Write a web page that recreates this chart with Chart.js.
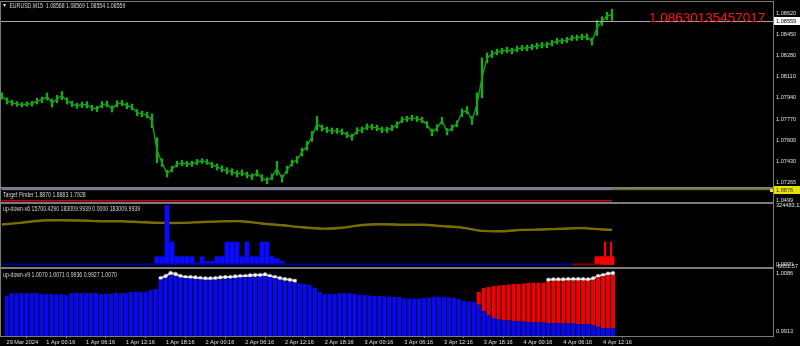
<!DOCTYPE html>
<html>
<head>
<meta charset="utf-8">
<script src="https://cdn.jsdelivr.net/npm/chart.js@4.4.1/dist/chart.umd.min.js"></script>
<style>
  body { margin: 0; background: #000; width: 800px; height: 346px; overflow: hidden; position: relative;
         font-family: "Liberation Sans", Arial, sans-serif; }
  canvas { position: absolute; left: 0; }
  .sep { position: absolute; background: #7c7c7c; z-index: 3; }
  .txt { position: absolute; color: #d8d8d8; font-size: 6.5px; line-height: 7px; white-space: nowrap; z-index: 4;
         transform: scaleX(0.8); transform-origin: 0 0; }
  .big { position: absolute; color: #ff1414; font-size: 13.5px; line-height: 13.5px; white-space: nowrap; z-index: 4; }
  .tri { display: inline-block; width: 0; height: 0; border-left: 2.5px solid transparent;
         border-right: 2.5px solid transparent; border-top: 3px solid #d8d8d8; margin-right: 4px; vertical-align: 1px; }
</style>
</head>
<body>
<canvas id="cMain" width="800" height="188" style="top:0"></canvas>
<canvas id="cTF" width="800" height="22" style="top:183px"></canvas>
<canvas id="cV6" width="800" height="70" style="top:199px"></canvas>
<canvas id="cV9" width="800" height="82" style="top:264px"></canvas>

<div class="sep" style="left:0;top:1px;width:773px;height:1px"></div>
<div class="sep" style="left:0;top:187px;width:773px;height:2px"></div>
<div class="sep" style="left:0;top:202px;width:773px;height:2px"></div>
<div class="sep" style="left:0;top:267px;width:773px;height:2px"></div>
<div class="sep" style="left:0;top:336px;width:773px;height:1px"></div>
<div class="sep" style="left:0;top:1px;width:1px;height:336px"></div>
<div class="sep" style="left:773px;top:1px;width:1px;height:336px"></div>

<div class="txt" style="left:3px;top:2px"><span class="tri"></span>EURUSD,M15&nbsp; 1.08568 1.08569 1.08554 1.08559</div>
<div class="big" style="left:649px;top:11px">1.08630135457017</div>
<div class="txt" style="left:3px;top:191px">Target Finder 1.8870 1.8863 1.7928</div>
<div class="txt" style="left:3px;top:205px">up-down-v6 15700.4290 183009.9939 0.0000 183009.9939</div>
<div class="txt" style="left:3px;top:271px">up-down-v9 1.0070 1.0071 0.9936 0.9927 1.0070</div>

<script>
// EURUSD M15, one point for every 3 bars
const mainHighs = [1.07980,1.07940,1.07920,1.07910,1.07902,1.07908,1.07912,1.07936,1.07946,1.07978,
  1.07930,1.07960,1.07990,1.07940,1.07912,1.07896,1.07906,1.07910,1.07880,1.07872,
  1.07910,1.07914,1.07876,1.07916,1.07920,1.07900,1.07890,1.07846,1.07834,1.07826,
  1.07810,1.07620,1.07450,1.07360,1.07392,1.07432,1.07440,1.07430,1.07432,1.07446,
  1.07452,1.07446,1.07424,1.07410,1.07396,1.07380,1.07372,1.07356,1.07362,1.07346,
  1.07330,1.07362,1.07324,1.07300,1.07330,1.07430,1.07320,1.07392,1.07442,1.07470,
  1.07536,1.07590,1.07670,1.07790,1.07722,1.07706,1.07698,1.07696,1.07690,1.07666,
  1.07650,1.07700,1.07706,1.07730,1.07728,1.07720,1.07706,1.07704,1.07720,1.07748,
  1.07786,1.07792,1.07800,1.07792,1.07784,1.07750,1.07690,1.07724,1.07784,1.07694,
  1.07722,1.07756,1.07850,1.07870,1.07790,1.07980,1.08260,1.08300,1.08318,1.08330,
  1.08338,1.08346,1.08338,1.08354,1.08360,1.08362,1.08368,1.08378,1.08384,1.08386,
  1.08400,1.08418,1.08416,1.08424,1.08440,1.08442,1.08450,1.08452,1.08420,1.08560,
  1.08590,1.08626,1.08650];
const mainLows = [1.07930,1.07890,1.07878,1.07872,1.07866,1.07872,1.07874,1.07890,1.07900,1.07922,
  1.07866,1.07900,1.07926,1.07890,1.07870,1.07856,1.07862,1.07860,1.07838,1.07830,
  1.07860,1.07868,1.07826,1.07866,1.07876,1.07852,1.07842,1.07796,1.07788,1.07780,
  1.07700,1.07420,1.07390,1.07306,1.07346,1.07386,1.07396,1.07388,1.07390,1.07404,
  1.07414,1.07406,1.07380,1.07362,1.07346,1.07330,1.07320,1.07306,1.07314,1.07298,
  1.07284,1.07312,1.07272,1.07250,1.07282,1.07320,1.07264,1.07334,1.07392,1.07416,
  1.07474,1.07520,1.07590,1.07680,1.07674,1.07660,1.07652,1.07654,1.07644,1.07620,
  1.07600,1.07650,1.07660,1.07684,1.07686,1.07676,1.07660,1.07662,1.07676,1.07698,
  1.07740,1.07750,1.07758,1.07750,1.07740,1.07698,1.07636,1.07672,1.07728,1.07642,
  1.07676,1.07706,1.07790,1.07812,1.07726,1.07800,1.07940,1.08220,1.08262,1.08284,
  1.08292,1.08300,1.08292,1.08308,1.08318,1.08316,1.08326,1.08332,1.08340,1.08342,
  1.08356,1.08372,1.08374,1.08382,1.08398,1.08400,1.08406,1.08404,1.08362,1.08440,
  1.08520,1.08566,1.08560];
const mainTicks = [1.08620, 1.08450, 1.08280, 1.08110, 1.07940, 1.07770, 1.07600, 1.07430, 1.07265];
const bidPrice = 1.08559;

// Target Finder levels
const tfUpper = 1.8863;
const tfLevel = 1.8876;
const tfLower = 1.0350;
const tfTicks = [1.0499];
const tfLastIdx = 122;

// up-down-v6
const v6Yellow = [218100,228000,240000,241000,239500,236000,235500,230500,227000,227000,
  232000,235000,235500,223500,214000,203000,195500,200000,215000,219500,
  216500,216500,209000,201000,183000,181000,188500,191000,195000,198000,191000,189000];
const v6YellowStep = 4;
const v6BlueStart = 31;
const v6Blue = [42500,42500,324483,122000,42500,42500,42500,42500,8000,42500,
  16000,16000,42500,42500,122000,122000,122000,42500,122000,42500,
  42500,122000,122000,42500,32000,16000];
const v6RedStart = 119;
const v6Red = [42500,42500,42500,42500];
const v6RedSpikeIdx = [120.6, 121.8];
const v6RedSpikes = [122000, 122000];
const v6NavyEnd = 114;
const v6DarkRedEnd = 119;
const v6Min = -8651.57, v6Max = 324483.12;

// up-down-v9
const v9Blue = [1.0019,1.0026,1.0026,1.0027,1.0026,1.0027,1.0026,1.0025,1.0023,1.0024,
  1.0023,1.0024,1.0021,1.0026,1.0027,1.0026,1.0027,1.0026,1.0027,1.0024,
  1.0025,1.0025,1.0027,1.0026,1.0027,1.0030,1.0031,1.0031,1.0031,1.0036,
  1.0039,1.0067,1.0071,1.0080,1.0077,1.0073,1.0071,1.0070,1.0068,1.0068,
  1.0066,1.0066,1.0066,1.0068,1.0068,1.0070,1.0071,1.0073,1.0074,1.0074,
  1.0074,1.0075,1.0077,1.0074,1.0071,1.0066,1.0063,1.0060,1.0058,1.0055,
  1.0054,1.0051,1.0042,1.0030,1.0024,1.0024,1.0024,1.0026,1.0027,1.0026,
  1.0025,1.0021,1.0021,1.0020,1.0018,1.0018,1.0017,1.0017,1.0015,1.0015,
  1.0011,1.0011,1.0011,1.0011,1.0012,1.0014,1.0016,1.0017,1.0015,1.0014,
  1.0012,1.0009,1.0003,1.0002,1.0001,0.9992,0.9974,0.9962,0.9953,0.9950,
  0.9947,0.9946,0.9944,0.9944,0.9943,0.9941,0.9941,0.9940,0.9940,0.9938,
  0.9938,0.9938,0.9938,0.9937,0.9937,0.9935,0.9935,0.9935,0.9932,0.9927,
  0.9924,0.9924,0.9924];
const v9RedStart = 95;
const v9Red = [1.0030,1.0042,1.0045,1.0048,1.0049,1.0051,1.0052,1.0054,1.0054,1.0055,
  1.0057,1.0057,1.0057,1.0057,1.0060,1.0063,1.0063,1.0063,1.0064,1.0064,
  1.0064,1.0064,1.0063,1.0066,1.0074,1.0077,1.0080,1.0080];
const v9WhiteAStart = 31;
const v9WhiteA = [1.0071,1.0077,1.0086,1.0083,1.0077,1.0074,1.0074,1.0073,1.0071,1.0070,
  1.0070,1.0071,1.0073,1.0074,1.0074,1.0076,1.0077,1.0077,1.0079,1.0080,
  1.0080,1.0082,1.0077,1.0074,1.0071,1.0068,1.0066,1.0063];
const v9WhiteBStart = 109;
const v9WhiteB = [1.0066,1.0067,1.0067,1.0067,1.0068,1.0068,1.0068,1.0068,1.0067,1.0070,
  1.0077,1.0080,1.0084,1.0086];
const v9Min = 0.9900, v9Max = 1.0095;
const v9Ticks = [1.0086, 0.9913];

// time axis
const timeLabels = ["29 Mar 2024", "1 Apr 00:16", "1 Apr 06:16", "1 Apr 12:16", "1 Apr 18:16",
  "2 Apr 00:16", "2 Apr 06:16", "2 Apr 12:16", "2 Apr 18:16", "3 Apr 00:16", "3 Apr 06:16",
  "3 Apr 12:16", "3 Apr 18:16", "4 Apr 00:16", "4 Apr 06:16", "4 Apr 12:16"];
const labelStep = 8;

const FONT = '"Liberation Sans", Arial, sans-serif';
const TICK_SIZE = 5.6;
const X_MIN = -0.4, X_MAX = 154.2;

function noPad(s) { s.paddingTop = 0; s.paddingBottom = 0; s.paddingLeft = 0; s.paddingRight = 0; }

function xAxis(show) {
  const ax = { type: "linear", min: X_MIN, max: X_MAX, offset: false, display: show,
    grid: { display: false }, border: { display: false } };
  if (show) {
    ax.afterFit = s => { s.height = 10; noPad(s); };
    ax.afterBuildTicks = s => { s.ticks = timeLabels.map((_, k) => ({ value: k * labelStep })); };
    ax.grid = { display: true, drawOnChartArea: false, drawTicks: true, tickLength: 2, color: "#8a8a8a" };
    ax.ticks = { autoSkip: false, maxRotation: 0, align: "start", padding: 1, color: "#e0e0e0",
      font: { family: FONT, size: TICK_SIZE }, callback: (v, i) => timeLabels[i] };
  }
  return ax;
}

function yAxis(min, max, ticks, fmt) {
  return {
    position: "right", min, max,
    afterFit: s => { s.width = 27; noPad(s); },
    afterBuildTicks: s => { s.ticks = ticks.map(v => ({ value: v })); },
    grid: { display: false, drawTicks: false }, border: { display: false },
    ticks: { autoSkip: false, padding: 3, color: "#e0e0e0", font: { family: FONT, size: TICK_SIZE }, callback: fmt }
  };
}

const baseOpts = {
  responsive: false, animation: false, events: [],
  plugins: { legend: { display: false }, tooltip: { enabled: false } }
};

function priceBox(ctx, area, y, text, bg, fg) {
  ctx.fillStyle = bg;
  ctx.fillRect(area.right + 1, Math.round(y) - 4, 27, 8);
  ctx.fillStyle = fg;
  ctx.font = TICK_SIZE + "px " + FONT;
  ctx.textBaseline = "middle";
  ctx.fillText(text, area.right + 3, Math.round(y));
}

// головне вікно: стовпчики high-low і лінія через їх середини
new Chart(document.getElementById("cMain"), {
  type: "bar",
  data: { datasets: [
    { type: "line", data: mainHighs.map((h, i) => ({ x: i, y: (h + mainLows[i]) / 2 })),
      borderColor: "#14a014", borderWidth: 1.4, pointRadius: 0, tension: 0 },
    { data: mainHighs.map((h, i) => ({ x: i, y: [mainLows[i], h] })),
      backgroundColor: "#18b018", barThickness: 1.6, grouped: false }
  ] },
  options: { ...baseOpts,
    layout: { padding: { top: 2, bottom: 1, left: 0, right: 0 } },
    scales: { x: xAxis(false), y: yAxis(1.07225, 1.08708, mainTicks, v => v.toFixed(5)) }
  },
  plugins: [{
    id: "bid",
    afterDraw(chart) {
      const ctx = chart.ctx, area = chart.chartArea;
      const y = chart.scales.y.getPixelForValue(bidPrice);
      ctx.save();
      ctx.strokeStyle = "#a8a8a8"; ctx.lineWidth = 1;
      ctx.beginPath(); ctx.moveTo(0, Math.round(y) + 0.5); ctx.lineTo(area.right, Math.round(y) + 0.5); ctx.stroke();
      priceBox(ctx, area, y, bidPrice.toFixed(5), "#ffffff", "#000000");
      ctx.restore();
    }
  }]
});

// Target Finder
new Chart(document.getElementById("cTF"), {
  type: "line",
  data: { datasets: [
    { data: [{ x: 0, y: tfUpper }, { x: tfLastIdx, y: tfUpper }], borderColor: "#7474a8", borderWidth: 2, pointRadius: 0 },
    { data: [{ x: tfLastIdx, y: tfLevel }, { x: X_MAX, y: tfLevel }], borderColor: "#6a6a10", borderWidth: 2, pointRadius: 0 },
    { data: [{ x: 0, y: tfLower }, { x: tfLastIdx, y: tfLower }], borderColor: "#c80000", borderWidth: 1.5, pointRadius: 0 }
  ] },
  options: { ...baseOpts,
    layout: { padding: { top: 6, bottom: 3, left: 0, right: 0 } },
    scales: { x: xAxis(false), y: yAxis(0.95, 1.9, tfTicks, v => v.toFixed(4)) }
  },
  plugins: [{
    id: "tfbox",
    afterDraw(chart) {
      const ctx = chart.ctx, area = chart.chartArea;
      const y = chart.scales.y.getPixelForValue(tfLevel);
      ctx.save();
      priceBox(ctx, area, y + 1, tfLevel.toFixed(4), "#e8e400", "#303000");
      ctx.fillStyle = "#e8e400";
      ctx.fillRect(area.right - 3, Math.round(y), 3, 3);
      ctx.restore();
    }
  }]
});

// up-down-v6
const v6YellowPts = v6Yellow.map((v, k) => ({ x: Math.min(k * v6YellowStep, tfLastIdx), y: v }));
new Chart(document.getElementById("cV6"), {
  type: "bar",
  data: { datasets: [
    { type: "line", data: [{ x: 0, y: 0 }, { x: v6NavyEnd, y: 0 }], borderColor: "#000090", borderWidth: 2, pointRadius: 0 },
    { type: "line", data: [{ x: v6NavyEnd, y: 0 }, { x: v6DarkRedEnd, y: 0 }], borderColor: "#800000", borderWidth: 2, pointRadius: 0 },
    { data: v6Blue.map((v, k) => ({ x: v6BlueStart + k, y: v })), backgroundColor: "#0a0aff",
      barThickness: 4.2, grouped: false },
    { data: v6Red.map((v, k) => ({ x: v6RedStart + k, y: v })), backgroundColor: "#ff0000",
      barThickness: 4.2, grouped: false },
    { data: v6RedSpikes.map((v, k) => ({ x: v6RedSpikeIdx[k], y: v })), backgroundColor: "#ff0000",
      barThickness: 1.6, grouped: false },
    { type: "line", data: v6YellowPts, borderColor: "#7a6c00", borderWidth: 2.4, pointRadius: 0, tension: 0.3 },
    { type: "line", data: v6YellowPts, borderColor: "#f0c400", borderWidth: 1.3, pointRadius: 0, tension: 0.3 }
  ] },
  options: { ...baseOpts,
    layout: { padding: { top: 6, bottom: 3, left: 0, right: 0 } },
    scales: { x: xAxis(false),
      y: yAxis(v6Min, v6Max, [v6Max, 0, v6Min], v => v === 0 ? "0.0000" : v.toFixed(2)) }
  }
});

// up-down-v9
const whiteStyle = { type: "line", borderColor: "rgba(255,255,255,0.9)", borderWidth: 2, pointRadius: 1.9,
  pointBackgroundColor: "#ffffff", pointBorderColor: "#a0a0a0", pointBorderWidth: 0.6 };
new Chart(document.getElementById("cV9"), {
  type: "bar",
  data: { datasets: [
    { data: v9Blue.map((v, i) => ({ x: i, y: v })), base: v9Min, backgroundColor: "#0808f4",
      barPercentage: 0.82, categoryPercentage: 1, grouped: false },
    { data: v9Red.map((v, k) => ({ x: v9RedStart + k, y: [v9Blue[v9RedStart + k], v] })), backgroundColor: "#f00000",
      barPercentage: 0.82, categoryPercentage: 1, grouped: false },
    { ...whiteStyle, data: v9WhiteA.map((v, k) => ({ x: v9WhiteAStart + k, y: v })) },
    { ...whiteStyle, data: v9WhiteB.map((v, k) => ({ x: v9WhiteBStart + k, y: v })) }
  ] },
  options: { ...baseOpts,
    layout: { padding: { top: 6, bottom: 0, left: 0, right: 0 } },
    scales: { x: xAxis(true), y: yAxis(v9Min, v9Max, v9Ticks, v => v.toFixed(4)) }
  }
});
</script>
</body>
</html>
